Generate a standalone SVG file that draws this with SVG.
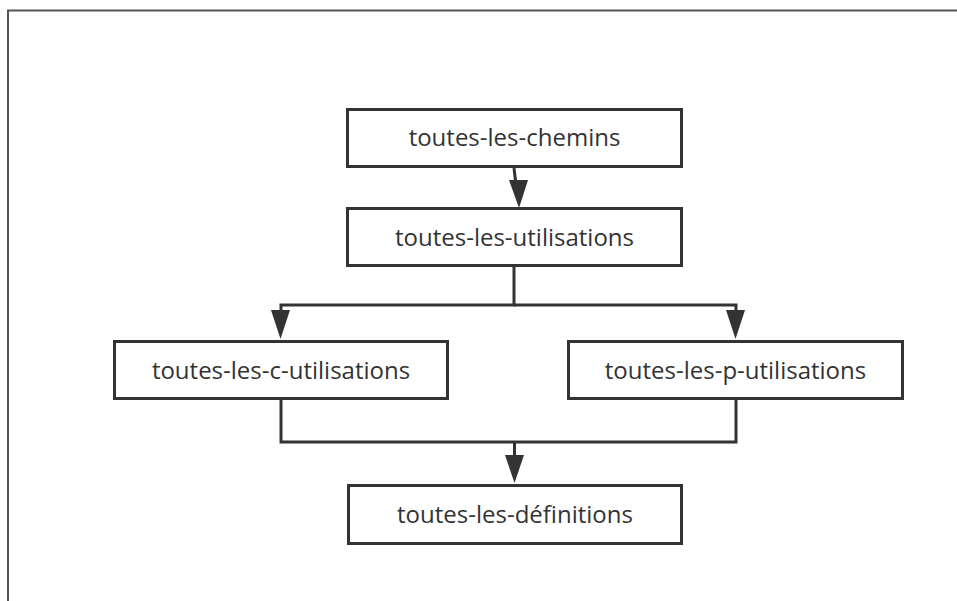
<svg xmlns="http://www.w3.org/2000/svg" width="957" height="601" viewBox="0 0 957 601">
<style>
.box{fill:#fff;stroke:#333;stroke-width:3}
.lbl{font-family:"Open Sans","Noto Sans",sans-serif;font-size:24px;fill:#333;text-anchor:middle}
.con{fill:none;stroke:#333;stroke-width:3}
.head{fill:#333}
</style>
<rect width="957" height="601" fill="#fff"/>
<path d="M8,601 V10.5 H957" fill="none" stroke="#555" stroke-width="2"/>
<g id="connectors">
<path class="con" d="M514,168 L516,185"/>
<polygon class="head" points="509,180 528,180 519,208"/>
<path class="con" d="M514,267 V305 H281 V312"/>
<polygon class="head" points="271,310 290,310 280.5,339"/>
<path class="con" d="M514,305 H736 V312"/>
<polygon class="head" points="726,310 745,310 735.5,339"/>
<path class="con" d="M281,400 V442 H736 V400"/>
<path class="con" d="M514.5,442 V458"/>
<polygon class="head" points="505,455 524,455 514.5,483"/>
</g>
<g id="n1"><rect class="box" x="347.5" y="109.5" width="334" height="57"/><text class="lbl" x="514.5" y="146">toutes-les-chemins</text></g>
<g id="n2"><rect class="box" x="347.5" y="208.5" width="334" height="57"/><text class="lbl" x="514.5" y="246">toutes-les-utilisations</text></g>
<g id="n3"><rect class="box" x="114.5" y="341.5" width="333" height="57"/><text class="lbl" x="281" y="379">toutes-les-c-utilisations</text></g>
<g id="n4"><rect class="box" x="568.5" y="341.5" width="334" height="57"/><text class="lbl" x="735.5" y="379">toutes-les-p-utilisations</text></g>
<g id="n5"><rect class="box" x="348.5" y="485.5" width="333" height="58"/><text class="lbl" x="515" y="523">toutes-les-définitions</text></g>
</svg>
